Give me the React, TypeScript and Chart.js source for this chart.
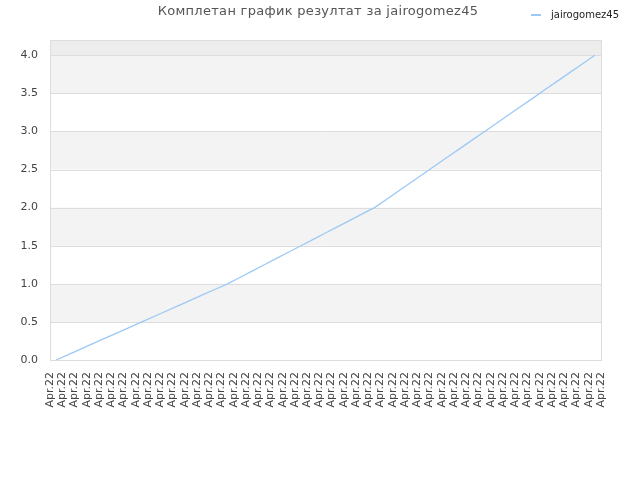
import { useEffect, useRef } from "react";
import { Chart, registerables, Plugin } from "chart.js";

Chart.register(...registerables);

const TITLE = "Комплетан график резултат за jairogomez45";
const SERIES_NAME = "jairogomez45";

// one tick label per day on the axis
const dateLabels: string[] = Array(46).fill("Apr.22");

// cumulative score, one value per game
const scores: number[] = [
  0, 0.071, 0.143, 0.214, 0.286, 0.357, 0.429, 0.5, 0.571, 0.643, 0.714, 0.786, 0.857, 0.929, 1.0,
  1.083, 1.167, 1.25, 1.333, 1.417, 1.5, 1.583, 1.667, 1.75, 1.833, 1.917, 2.0,
  2.111, 2.222, 2.333, 2.444, 2.556, 2.667, 2.778, 2.889, 3.0, 3.111, 3.222, 3.333, 3.444, 3.556, 3.667,
  3.778, 3.889, 4.0,
];
const gameLabels: string[] = scores.map((_, i) => String(i + 1));

const yTicks: number[] = [0, 0.5, 1, 1.5, 2, 2.5, 3, 3.5, 4];
const grayBands: [number, number][] = [
  [0.5, 1],
  [1.5, 2],
  [2.5, 3],
  [3.5, 4],
];

const LINE_COLOR = "#9cc9f5";
const FONT = "DejaVu Sans";

// striped background + frame behind the line
const bandsPlugin: Plugin<"line"> = {
  id: "bands",
  beforeDatasetsDraw(chart) {
    const { ctx, chartArea: a, scales } = chart;
    const y = scales.y;
    ctx.save();
    ctx.fillStyle = "#f3f3f3";
    for (const [lo, hi] of grayBands) {
      const top = y.getPixelForValue(hi);
      ctx.fillRect(a.left, top, a.right - a.left, y.getPixelForValue(lo) - top);
    }
    ctx.fillStyle = "#ededed";
    const top4 = y.getPixelForValue(4);
    ctx.fillRect(a.left, a.top, a.right - a.left, top4 - a.top);
    ctx.strokeStyle = "#dddddd";
    ctx.lineWidth = 1;
    for (const v of yTicks) {
      const py = Math.round(y.getPixelForValue(v)) + 0.5;
      ctx.beginPath();
      ctx.moveTo(a.left, py);
      ctx.lineTo(a.right, py);
      ctx.stroke();
    }
    ctx.strokeRect(Math.round(a.left) + 0.5, Math.round(a.top) + 0.5, Math.round(a.right - a.left), Math.round(a.bottom - a.top));
    ctx.restore();
  },
};

// title and legend share the top row
const headerPlugin: Plugin<"line"> = {
  id: "header",
  afterDraw(chart) {
    const { ctx, width } = chart;
    const ds = chart.data.datasets[0];
    ctx.save();
    ctx.fillStyle = "#555";
    ctx.font = `13px "${FONT}"`;
    (ctx as any).letterSpacing = "0.3px";
    ctx.textAlign = "center";
    ctx.textBaseline = "middle";
    ctx.fillText(TITLE, width / 2 - 2, 12);
    (ctx as any).letterSpacing = "0px";

    const x0 = width - 109;
    ctx.strokeStyle = ds.borderColor as string;
    ctx.lineWidth = 2;
    ctx.beginPath();
    ctx.moveTo(x0, 15);
    ctx.lineTo(x0 + 10, 15);
    ctx.stroke();
    ctx.fillStyle = "#222";
    ctx.font = `10px "${FONT}"`;
    ctx.textAlign = "left";
    ctx.fillText(ds.label ?? "", x0 + 20, 15);
    ctx.restore();
  },
};

export default function App() {
  const canvasRef = useRef<HTMLCanvasElement>(null);

  useEffect(() => {
    document.body.style.margin = "0";
    if (!canvasRef.current) return;

    const chart = new Chart(canvasRef.current, {
      type: "line",
      data: {
        labels: gameLabels,
        datasets: [
          {
            label: SERIES_NAME,
            data: scores,
            xAxisID: "games",
            borderColor: LINE_COLOR,
            borderWidth: 1.3,
            pointRadius: 0,
            tension: 0,
            fill: false,
          },
        ],
      },
      options: {
        responsive: false,
        animation: false,
        layout: { padding: { top: 40, right: 39, left: 0, bottom: 0 } },
        plugins: {
          legend: { display: false },
          tooltip: { enabled: false },
          title: { display: false },
        },
        scales: {
          x: {
            type: "category",
            labels: dateLabels,
            offset: false,
            grid: { display: false, drawTicks: false },
            border: { display: false },
            ticks: {
              autoSkip: false,
              minRotation: 90,
              maxRotation: 90,
              padding: 12,
              color: "#444",
              font: { family: FONT, size: 11 },
            },
            afterFit: (s) => {
              s.height = 120;
            },
          },
          games: {
            type: "category",
            offset: true,
            display: false,
          },
          y: {
            min: 0,
            max: 4.2,
            grid: { display: false, drawTicks: false },
            border: { display: false },
            afterBuildTicks: (s) => {
              s.ticks = yTicks.map((v) => ({ value: v }));
            },
            ticks: {
              padding: 12,
              color: "#444",
              font: { family: FONT, size: 11 },
              callback: (v) => Number(v).toFixed(1),
            },
            afterFit: (s) => {
              s.width = 50;
            },
          },
        },
      },
      plugins: [bandsPlugin, headerPlugin],
    });

    return () => {
      chart.destroy();
    };
  }, []);

  return (
    <div style={{ width: 640, height: 480 }}>
      <canvas ref={canvasRef} width={640} height={480} />
    </div>
  );
}
